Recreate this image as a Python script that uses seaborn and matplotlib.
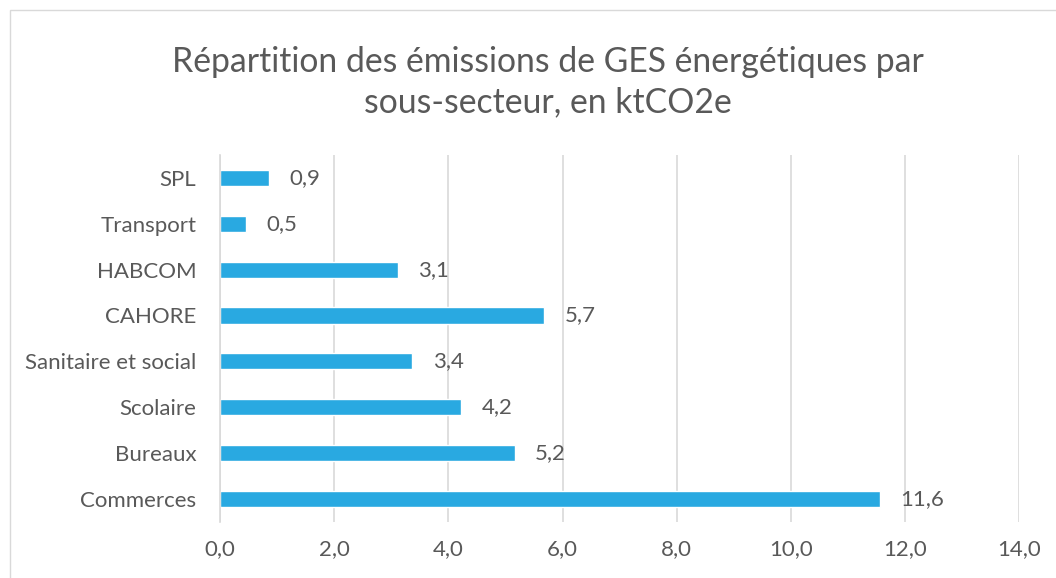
import matplotlib
matplotlib.use("Agg")
import matplotlib.pyplot as plt
import seaborn as sns
import pandas as pd
from matplotlib.patches import Rectangle

# Data
categories = ["SPL", "Transport", "HABCOM", "CAHORE", "Sanitaire et social",
              "Scolaire", "Bureaux", "Commerces"]
values = [0.86, 0.46, 3.11, 5.68, 3.37, 4.22, 5.16, 11.56]
xticks = [0, 2, 4, 6, 8, 10, 12, 14]

df = pd.DataFrame({"secteur": categories, "ktCO2e": values})

sns.set_style("white")
plt.rcParams["font.family"] = ["Lato", "DejaVu Sans"]
text_col = "#595959"

fig = plt.figure(figsize=(10.56, 5.78), dpi=100)
ax = fig.add_axes([0.2083, 0.097, 0.757, 0.635])

sns.barplot(data=df, x="ktCO2e", y="secteur", color="#29A9E1",
            width=0.35, saturation=1, ax=ax)

ax.set_xlim(0, 14)
ax.set_ylim(7.5, -0.5)
ax.set_xticks(xticks)
ax.set_xticklabels([f"{t:.1f}".replace(".", ",") for t in xticks])
ax.xaxis.grid(True, color="#D9D9D9", linewidth=1.2)
ax.set_axisbelow(True)
ax.set_xlabel("")
ax.set_ylabel("")
ax.tick_params(axis="both", length=0, labelsize=16, colors=text_col)
ax.tick_params(axis="y", pad=17)
ax.tick_params(axis="x", pad=12)

for s in ["top", "right", "bottom"]:
    ax.spines[s].set_visible(False)
ax.spines["left"].set_color("#D9D9D9")
ax.spines["left"].set_linewidth(1.2)

# value labels
for i, v in enumerate(values):
    ax.text(v + 0.36, i, f"{v:.1f}".replace(".", ","), va="center", ha="left",
            fontsize=16, color=text_col)

fig.text(0.519, 0.858, "Répartition des émissions de GES énergétiques par\nsous-secteur, en ktCO2e",
         ha="center", va="center", fontsize=24.3, color=text_col, linespacing=1.3)

# chart area border
fig.patches.append(Rectangle((10 / 1056, -0.05), 1.1, 1.05 - 10 / 578,
                             transform=fig.transFigure, fill=False,
                             edgecolor="#D9D9D9", linewidth=1))

fig.savefig("out.png", dpi=100)
